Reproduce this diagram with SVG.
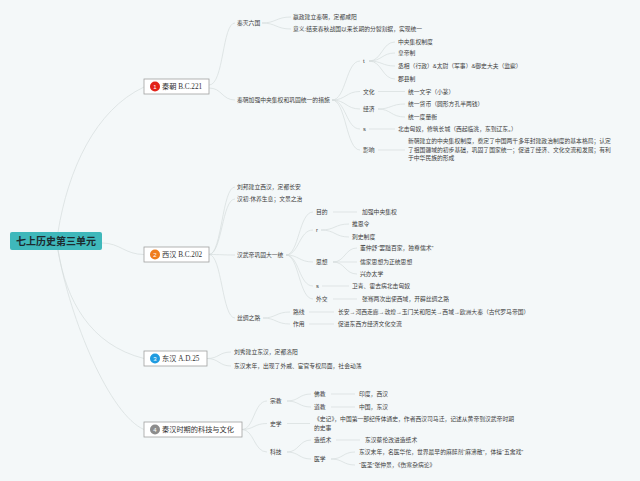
<svg xmlns="http://www.w3.org/2000/svg" width="640" height="481" viewBox="0 0 640 481">
<style>
.bg{fill:#f4f8f9}
.ln{fill:none;stroke:#d5dcdd;stroke-width:0.7}
.t{font-family:"Liberation Sans","Noto Sans CJK SC",sans-serif;font-size:5.8px;fill:#3c3c3c}
.box{fill:#ffffff;stroke:#a0a0a0;stroke-width:0.8}
.nt{font-family:"Liberation Serif","Noto Sans CJK SC",serif;font-size:7.2px;fill:#333333}
.num{font-family:"Liberation Sans",sans-serif;font-size:6px;fill:#ffffff;text-anchor:middle}
.root{fill:#3fb8bb}
.rt{font-family:"Liberation Sans","Noto Sans CJK SC",sans-serif;font-size:10px;font-weight:bold;fill:#1d2b2f;text-anchor:middle}
</style>
<rect class="bg" x="0" y="0" width="640" height="481"/>
<g id="connectors">
<path class="ln" d="M58,232 C68,170 95,110 144,87"/>
<path class="ln" d="M102,243 C120,243 125,254.5 144,254.5"/>
<path class="ln" d="M58,250 C66,300 90,345 144,358.5"/>
<path class="ln" d="M58,250 C70,320 110,415 144,429.5"/>
<path class="ln" d="M209,85 C224,85 222,23 235,23"/>
<path class="ln" d="M209,88 C222,88 222,100 235,100"/>
<path class="ln" d="M262,23 C276,23 276,17 291,17"/>
<path class="ln" d="M262,23 C276,23 276,29 291,29"/>
<path class="ln" d="M332,100 C346,100 346,61 360,61"/>
<path class="ln" d="M332,100 C346,100 346,91.5 360,91.5"/>
<path class="ln" d="M332,100 C346,100 346,109 360,109"/>
<path class="ln" d="M332,100 C346,100 346,129 360,129"/>
<path class="ln" d="M332,100 C346,100 346,150 360,150"/>
<path class="ln" d="M369,61 C382,61 382,42 395,42"/>
<path class="ln" d="M369,61 C382,61 382,53 395,53"/>
<path class="ln" d="M369,61 C382,61 382,66 395,66"/>
<path class="ln" d="M369,61 C382,61 382,79 395,79"/>
<path class="ln" d="M378,91.5 L405,91.5"/>
<path class="ln" d="M378,109 C391,109 391,104 405,104"/>
<path class="ln" d="M378,109 C391,109 391,117 405,117"/>
<path class="ln" d="M369,129 L395,129"/>
<path class="ln" d="M378,150 L405,150"/>
<path class="ln" d="M209,254.5 C222,254.5 222,187 235,187"/>
<path class="ln" d="M209,254.5 C222,254.5 222,199 235,199"/>
<path class="ln" d="M209,254.5 C222,254.5 222,255 235,255"/>
<path class="ln" d="M209,254.5 C222,254.5 222,318 235,318"/>
<path class="ln" d="M286,255 C299,255 299,212 313,212"/>
<path class="ln" d="M286,255 C299,255 299,230 313,230"/>
<path class="ln" d="M286,255 C299,255 299,262 313,262"/>
<path class="ln" d="M286,255 C299,255 299,286 313,286"/>
<path class="ln" d="M286,255 C299,255 299,299 313,299"/>
<path class="ln" d="M333,212 L357,212"/>
<path class="ln" d="M321,230 C335,230 335,224 349,224"/>
<path class="ln" d="M321,230 C335,230 335,237 349,237"/>
<path class="ln" d="M333,262 C345,262 345,248 357,248"/>
<path class="ln" d="M333,262 L357,262"/>
<path class="ln" d="M333,262 C345,262 345,274 357,274"/>
<path class="ln" d="M322,286 L349,286"/>
<path class="ln" d="M333,299 L357,299"/>
<path class="ln" d="M263,318 C276,318 276,312 290,312"/>
<path class="ln" d="M263,318 C276,318 276,324 290,324"/>
<path class="ln" d="M309,312 L334,312"/>
<path class="ln" d="M309,324 L334,324"/>
<path class="ln" d="M207,358.5 C219,358.5 219,352 231,352"/>
<path class="ln" d="M207,358.5 C219,358.5 219,366 231,366"/>
<path class="ln" d="M242,429.5 C254,429.5 254,401 267,401"/>
<path class="ln" d="M242,429.5 C254,429.5 254,423.5 267,423.5"/>
<path class="ln" d="M242,429.5 C254,429.5 254,452 267,452"/>
<path class="ln" d="M287,401 C299,401 299,394 311,394"/>
<path class="ln" d="M287,401 C299,401 299,407 311,407"/>
<path class="ln" d="M331,394 L355,394"/>
<path class="ln" d="M331,407 L355,407"/>
<path class="ln" d="M287,423.5 L310,423.5"/>
<path class="ln" d="M287,452 C299,452 299,440 311,440"/>
<path class="ln" d="M287,452 C299,452 299,459 311,459"/>
<path class="ln" d="M336,440 L360,440"/>
<path class="ln" d="M331,459 C343,459 343,452 355,452"/>
<path class="ln" d="M331,459 C343,459 343,465 355,465"/>
</g>
<g id="root">
<rect class="root" x="10" y="232" width="92" height="18" rx="2"/>
<text class="rt" x="56" y="244.5">七上历史第三单元</text>
</g>
<g id="node-qin">
<rect class="box" x="144" y="79" width="65" height="15"/>
<circle cx="155" cy="86.5" r="5" fill="#e2231a"/>
<text class="num" x="155" y="88.6">1</text>
<text class="nt" x="162" y="89.2">秦朝 B.C.221</text>
</g>
<g id="node-xihan">
<rect class="box" x="144" y="247" width="65" height="15"/>
<circle cx="155" cy="254.5" r="5" fill="#ef7d1e"/>
<text class="num" x="155" y="256.6">2</text>
<text class="nt" x="162" y="257.2">西汉 B.C.202</text>
</g>
<g id="node-donghan">
<rect class="box" x="144" y="351" width="63" height="15"/>
<circle cx="155" cy="358.5" r="5" fill="#1e9be0"/>
<text class="num" x="155" y="360.6">3</text>
<text class="nt" x="162" y="361.2">东汉 A.D.25</text>
</g>
<g id="node-keji">
<rect class="box" x="144" y="422" width="98" height="15"/>
<circle cx="155" cy="429.5" r="5" fill="#8c8c8c"/>
<text class="num" x="155" y="431.6">4</text>
<text class="nt" x="162" y="432.2">秦汉时期的科技与文化</text>
</g>
<g id="qin-children">
<text class="t" x="237" y="25.1">秦灭六国</text>
<text class="t" x="293" y="19.1">嬴政建立秦朝，定都咸阳</text>
<text class="t" x="293" y="31.1">意义:结束春秋战国以来长期的分裂割据，实现统一</text>
<text class="t" x="237" y="102.1">秦朝加强中央集权和巩固统一的措施</text>
<text class="t" x="363" y="63.1">t</text>
<text class="t" x="398" y="44.1">中央集权制度</text>
<text class="t" x="398" y="55.1">皇帝制</text>
<text class="t" x="398" y="68.1">丞相（行政）&amp;太尉（军事）&amp;御史大夫（监察）</text>
<text class="t" x="398" y="81.1">郡县制</text>
<text class="t" x="363" y="93.6">文化</text>
<text class="t" x="408" y="94.1">统一文字（小篆）</text>
<text class="t" x="363" y="111.1">经济</text>
<text class="t" x="408" y="106.1">统一货币（圆形方孔半两钱）</text>
<text class="t" x="408" y="119.1">统一度量衡</text>
<text class="t" x="363" y="131.1">s</text>
<text class="t" x="398" y="131.1">北击匈奴，修筑长城（西起临洮，东到辽东。）</text>
<text class="t" x="363" y="152.1">影响</text>
<text class="t" x="408" y="143.1">新朝建立的中央集权制度，奠定了中国两千多年封建政治制度的基本格局；认定</text>
<text class="t" x="408" y="151.6">了祖国疆域的初步基础，巩固了国家统一；促进了经济、文化交流和发展；有利</text>
<text class="t" x="408" y="160.1">于中华民族的形成</text>
</g>
<g id="xihan-children">
<text class="t" x="237" y="189.1">刘邦建立西汉，定都长安</text>
<text class="t" x="237" y="201.1">汉初:休养生息；文景之治</text>
<text class="t" x="237" y="257.1">汉武帝巩固大一统</text>
<text class="t" x="316" y="214.1">目的</text>
<text class="t" x="362" y="214.1">加强中央集权</text>
<text class="t" x="316" y="232.1">r</text>
<text class="t" x="352" y="226.1">推恩令</text>
<text class="t" x="352" y="239.1">刺史制度</text>
<text class="t" x="316" y="264.1">思想</text>
<text class="t" x="360" y="250.1">董仲舒“罢黜百家，独尊儒术”</text>
<text class="t" x="360" y="264.1">儒家思想为正统思想</text>
<text class="t" x="360" y="276.1">兴办太学</text>
<text class="t" x="316" y="288.1">s</text>
<text class="t" x="352" y="288.1">卫青、霍去病北击匈奴</text>
<text class="t" x="316" y="301.1">外交</text>
<text class="t" x="362" y="301.1">张骞两次出使西域，开辟丝绸之路</text>
<text class="t" x="237" y="320.1">丝绸之路</text>
<text class="t" x="293" y="314.1">路线</text>
<text class="t" x="338" y="314.1">长安→河西走廊→敦煌→玉门关和阳关→西域→欧洲大秦（古代罗马帝国）</text>
<text class="t" x="293" y="326.1">作用</text>
<text class="t" x="338" y="326.1">促进东西方经济文化交流</text>
</g>
<g id="donghan-children">
<text class="t" x="234" y="354.1">刘秀建立东汉，定都洛阳</text>
<text class="t" x="234" y="368.1">东汉末年，出现了外戚、宦官专权局面，社会动荡</text>
</g>
<g id="keji-children">
<text class="t" x="270" y="403.1">宗教</text>
<text class="t" x="314" y="396.1">佛教</text>
<text class="t" x="359" y="396.1">印度，西汉</text>
<text class="t" x="314" y="409.1">道教</text>
<text class="t" x="359" y="409.1">中国，东汉</text>
<text class="t" x="270" y="425.6">史学</text>
<text class="t" x="314" y="421.1">《史记》，中国第一部纪传体通史，作者西汉司马迁，记述从黄帝到汉武帝时期</text>
<text class="t" x="314" y="430.1">的史事</text>
<text class="t" x="270" y="454.1">科技</text>
<text class="t" x="314" y="442.1">造纸术</text>
<text class="t" x="365" y="442.1">东汉蔡伦改进造纸术</text>
<text class="t" x="314" y="461.1">医学</text>
<text class="t" x="359" y="454.1">东汉末年，名医华佗，世界最早的麻醉剂“麻沸散”，体操“五禽戏”</text>
<text class="t" x="359" y="467.1">“医圣”张仲景，《伤寒杂病论》</text>
</g>
</svg>
